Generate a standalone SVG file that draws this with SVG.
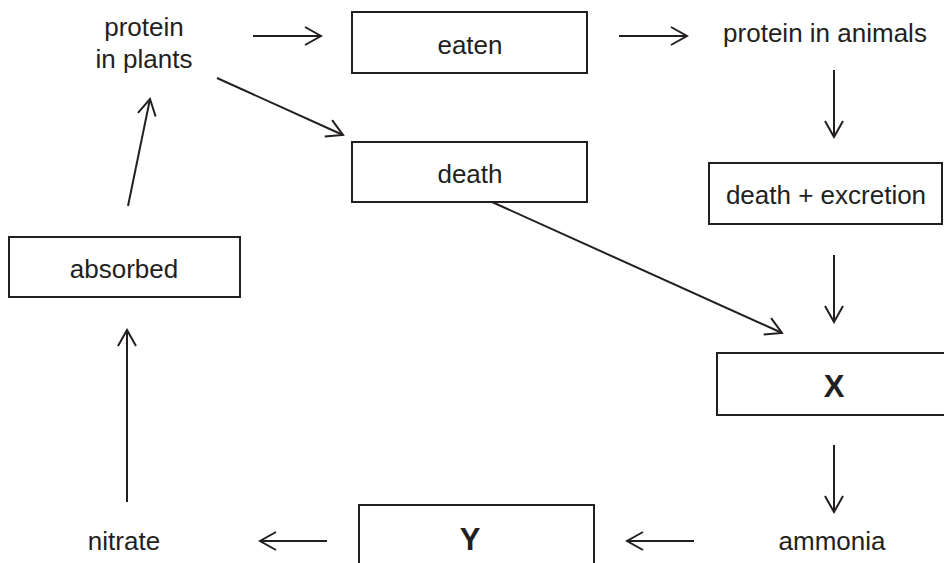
<svg xmlns="http://www.w3.org/2000/svg" width="944" height="563" viewBox="0 0 944 563">
<defs>
<style>
.box{fill:#fff;stroke:#231f20;stroke-width:2}
.t{font-family:"Liberation Sans",Arial,sans-serif;font-size:26px;fill:#231f20;text-anchor:middle}
.b{font-weight:bold;font-size:31px}
.c line{stroke:#231f20;stroke-width:2;marker-end:url(#ah)}
</style>
<marker id="ah" markerUnits="userSpaceOnUse" markerWidth="20" markerHeight="22" viewBox="-18 -11 20 22" refX="0" refY="0" orient="auto">
<path d="M-16,-9 L0,0 L-16,9" fill="none" stroke="#231f20" stroke-width="2"/>
</marker>
</defs>
<rect width="944" height="563" fill="#fff"/>
<g id="protein-plants"><text class="t" x="144" y="36">protein</text><text class="t" x="144" y="68">in plants</text></g>
<g id="eaten"><rect class="box" x="352" y="12" width="235" height="61"/><text class="t" x="470" y="54">eaten</text></g>
<g id="protein-animals"><text class="t" x="825" y="42">protein in animals</text></g>
<g id="death"><rect class="box" x="352" y="142" width="235" height="60"/><text class="t" x="470" y="183">death</text></g>
<g id="death-excretion"><rect class="box" x="709" y="163" width="233" height="61"/><text class="t" x="826" y="204">death + excretion</text></g>
<g id="absorbed"><rect class="box" x="9" y="237" width="231" height="60"/><text class="t" x="124" y="278">absorbed</text></g>
<g id="X"><rect class="box" x="717" y="353" width="240" height="62"/><text class="t b" x="834" y="397">X</text></g>
<g id="Y"><rect class="box" x="359" y="505" width="235" height="70"/><text class="t b" x="470" y="550">Y</text></g>
<g id="ammonia"><text class="t" x="832" y="550">ammonia</text></g>
<g id="nitrate"><text class="t" x="124" y="550">nitrate</text></g>
<g id="connectors" class="c">
<line x1="253" y1="36" x2="321" y2="36"/>
<line x1="619" y1="36" x2="687" y2="36"/>
<line x1="217" y1="78" x2="343" y2="135"/>
<line x1="128" y1="206" x2="150" y2="99"/>
<line x1="492" y1="202" x2="782" y2="333"/>
<line x1="834" y1="70" x2="834" y2="137"/>
<line x1="834" y1="255" x2="834" y2="322"/>
<line x1="834" y1="445" x2="834" y2="512"/>
<line x1="694" y1="541" x2="627" y2="541"/>
<line x1="327" y1="541" x2="260" y2="541"/>
<line x1="127" y1="502" x2="127" y2="330"/>
</g>
</svg>
